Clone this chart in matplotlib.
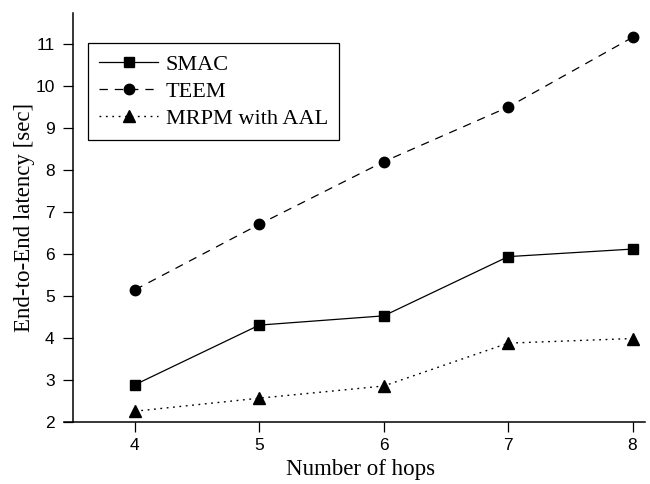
import matplotlib
matplotlib.use('Agg')
import matplotlib.pyplot as plt

# data
hops = [4, 5, 6, 7, 8]
smac = [2.88, 4.30, 4.52, 5.93, 6.11]
teem = [5.14, 6.70, 8.19, 9.49, 11.15]
mrpm = [2.25, 2.56, 2.85, 3.87, 3.98]
yticks = [2, 3, 4, 5, 6, 7, 8, 9, 10, 11]

plt.rcParams['lines.scale_dashes'] = False
serif = ['Liberation Serif', 'DejaVu Serif']
sans = ['Liberation Sans', 'DejaVu Sans']

fig = plt.figure(figsize=(6.5, 4.84), dpi=100)
ax = fig.add_axes([64 / 650, 62.3 / 484, 581 / 650, 408.7 / 484])

ax.plot(hops, smac, color='black', linestyle='-', linewidth=0.9,
        marker='s', markersize=6.5, label='SMAC')
ax.plot(hops, teem, color='black', linestyle=(0, (6, 5)), linewidth=0.9,
        marker='o', markersize=7.5, label='TEEM')
ax.plot(hops, mrpm, color='black', linestyle=(0, (1.3, 3.3)), linewidth=1.0,
        marker='^', markersize=8, label='MRPM with AAL')

ax.set_xlim(3.43, 8.1)
ax.set_ylim(2, 11.73)
ax.set_xticks(hops)
ax.set_yticks(yticks)

# only left and bottom axis lines, left one sits a bit inside
ax.spines['top'].set_visible(False)
ax.spines['right'].set_visible(False)
ax.spines['left'].set_position(('data', 3.5))
for s in ('left', 'bottom'):
    ax.spines[s].set_linewidth(1.1)

ax.tick_params(direction='out', length=7, width=0.9, colors='black')
ax.tick_params(axis='x', pad=5)
ax.tick_params(axis='y', pad=6)
for lab in ax.get_xticklabels() + ax.get_yticklabels():
    lab.set_fontfamily(sans)
    lab.set_fontsize(12.5)

ax.set_xlabel('Number of hops', fontsize=16.5, family=serif)
ax.set_ylabel('End-to-End latency [sec]', fontsize=16.5, family=serif)
ax.xaxis.set_label_coords(0.511, -0.092)
ax.yaxis.set_label_coords(-0.05, 0.5)

leg = ax.legend(loc='upper left', bbox_to_anchor=(88 / 650, 1 - 43 / 484),
                bbox_transform=fig.transFigure, prop={'family': serif, 'size': 16},
                frameon=True, fancybox=False, framealpha=1, edgecolor='black',
                handlelength=2.65, handletextpad=0.35, labelspacing=0.3,
                borderpad=0.5, borderaxespad=0)
leg.get_frame().set_linewidth(0.9)

fig.savefig('out.png', dpi=100)
